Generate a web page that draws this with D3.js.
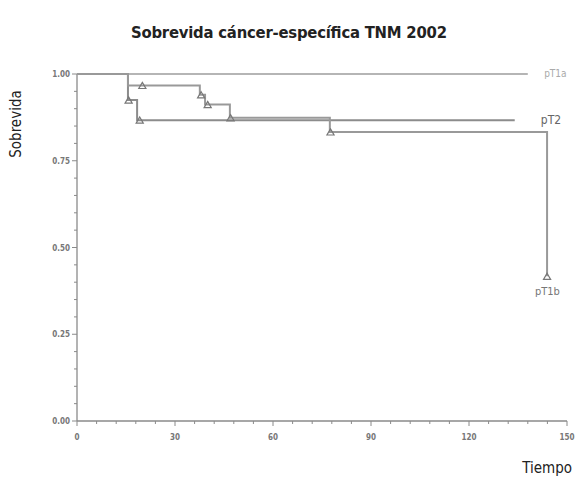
<!DOCTYPE html>
<html>
<head>
<meta charset="utf-8">
<script src="https://cdn.jsdelivr.net/npm/d3@7"></script>
<style>
  body { margin: 0; background: #fff; }
  svg { display: block; }
  .tick-label { font-family: "Liberation Sans Narrow", "DejaVu Sans Condensed", sans-serif; font-size: 8px; font-weight: bold; fill: #777; }
</style>
</head>
<body>
<svg id="chart" width="576" height="477"></svg>
<script>
// x axis ticks (months) and y axis ticks (survival)
var xTicks = [0, 30, 60, 90, 120, 150];
var xTickLabels = ["0", "30", "60", "90", "120", "150"];
var yTicks = [0, 0.25, 0.5, 0.75, 1];
var yTickLabels = ["0.00", "0.25", "0.50", "0.75", "1.00"];

// group names
var groups = ["pT1a", "pT2", "pT1b"];

// step points (time, survival)
var pT1aTimes = [0, 138];
var pT1aSurv  = [1, 1];
var pT2Times  = [0, 15.6, 18.4, 134];
var pT2Surv   = [1, 0.925, 0.867, 0.867];
var pT1bTimes = [0, 15.6, 37.6, 39.2, 46.8, 77.4, 143.9];
var pT1bSurv  = [1, 0.967, 0.94, 0.912, 0.874, 0.833, 0.417];

// censored observations
var pT2CensT  = [15.8, 19.2];
var pT1bCensT = [20, 38, 40, 47, 77.6, 143.9];

d3.select(window).on('load', init);

function init() {
    var svg = d3.select('#chart');

    var x = d3.scaleLinear().domain([0, 150]).range([77, 567]);
    var y = d3.scaleLinear().domain([0, 1]).range([421, 74]);

    var condensed = "'Liberation Sans Narrow', 'DejaVu Sans Condensed', sans-serif";

    // title
    svg.append("text")
        .attr("x", 289).attr("y", 38)
        .attr("text-anchor", "middle")
        .attr("textLength", 316)
        .style("font-family", condensed)
        .style("font-weight", "bold")
        .style("font-size", "16.5px")
        .style("fill", "#222")
        .text("Sobrevida cáncer-específica TNM 2002");

    // axis titles
    svg.append("text")
        .attr("transform", "translate(21,124) rotate(-90)")
        .attr("text-anchor", "middle")
        .style("font-family", condensed)
        .style("font-size", "15px")
        .style("fill", "#222")
        .text("Sobrevida");

    svg.append("text")
        .attr("x", 572).attr("y", 473)
        .attr("text-anchor", "end")
        .style("font-family", condensed)
        .style("font-size", "15px")
        .style("fill", "#222")
        .text("Tiempo");

    // axes
    var axisColor = "#8a8a8a";
    var xAxis = svg.append("g").attr("transform", "translate(0," + y(0) + ")");
    xAxis.append("line").attr("x1", x(0)).attr("x2", x(150)).attr("stroke", axisColor).attr("stroke-width", 1.3);
    xAxis.selectAll(".minor").data(d3.range(0, 151, 6)).enter().append("line")
        .attr("x1", function(d) { return x(d); }).attr("x2", function(d) { return x(d); })
        .attr("y1", 0).attr("y2", function(d) { return d % 30 === 0 ? 5 : 3; })
        .attr("stroke", axisColor);
    xAxis.selectAll(".tick-label").data(xTicks).enter().append("text")
        .attr("class", "tick-label")
        .attr("x", function(d) { return x(d); })
        .attr("y", 19)
        .attr("text-anchor", "middle")
        .text(function(d, i) { return xTickLabels[i]; });

    var yAxis = svg.append("g").attr("transform", "translate(" + x(0) + ",0)");
    yAxis.append("line").attr("y1", y(0)).attr("y2", y(1)).attr("stroke", axisColor).attr("stroke-width", 1.3);
    yAxis.selectAll(".minor").data(d3.range(0, 21)).enter().append("line")
        .attr("y1", function(d) { return y(d * 0.05); }).attr("y2", function(d) { return y(d * 0.05); })
        .attr("x1", function(d) { return d % 5 === 0 ? -5 : -3; }).attr("x2", 0)
        .attr("stroke", axisColor);
    yAxis.selectAll(".tick-label").data(yTicks).enter().append("text")
        .attr("class", "tick-label")
        .attr("x", -7)
        .attr("y", function(d) { return y(d) + 3; })
        .attr("text-anchor", "end")
        .text(function(d, i) { return yTickLabels[i]; });

    // step curves
    var line = d3.line()
        .curve(d3.curveStepAfter)
        .x(function(d) { return x(d[0]); })
        .y(function(d) { return y(d[1]); });

    function pts(ts, ss) { return ts.map(function(t, i) { return [t, ss[i]]; }); }
    function survAt(ts, ss, t) {
        var s = ss[0];
        ts.forEach(function(tt, i) { if (tt <= t) s = ss[i]; });
        return s;
    }

    var curves = [
        {name: groups[0], p: pts(pT1aTimes, pT1aSurv), color: "#b5b5b5"},
        {name: groups[1], p: pts(pT2Times, pT2Surv), color: "#8c8c8c"},
        {name: groups[2], p: pts(pT1bTimes, pT1bSurv), color: "#999"}
    ];

    svg.selectAll(".curve").data(curves).enter().append("path")
        .attr("class", "curve")
        .attr("d", function(d) { return line(d.p); })
        .attr("fill", "none")
        .attr("stroke", function(d) { return d.color; })
        .attr("stroke-width", 2);

    // censor marks
    var cens = pT2CensT.map(function(t) { return [t, survAt(pT2Times, pT2Surv, t)]; })
        .concat(pT1bCensT.map(function(t) { return [t, survAt(pT1bTimes, pT1bSurv, t)]; }));
    var tri = d3.symbol().type(d3.symbolTriangle).size(22);
    svg.selectAll(".cens").data(cens).enter().append("path")
        .attr("d", tri)
        .attr("transform", function(d) { return "translate(" + x(d[0]) + "," + (y(d[1]) + 1) + ")"; })
        .attr("fill", "none")
        .attr("stroke", "#777")
        .attr("stroke-width", 1.2);

    // curve labels
    var labels = [
        {text: groups[0], t: 143, s: 1, dy: 3, size: 10, color: "#aaa"},
        {text: groups[1], t: 142, s: 0.867, dy: 4, size: 12, color: "#666"},
        {text: groups[2], t: 144, s: 0.417, dy: 19, size: 11, color: "#777", anchor: "middle"}
    ];
    svg.selectAll(".lab").data(labels).enter().append("text")
        .attr("x", function(d) { return x(d.t); })
        .attr("y", function(d) { return y(d.s) + d.dy; })
        .attr("text-anchor", function(d) { return d.anchor || "start"; })
        .style("font-family", condensed)
        .style("font-size", function(d) { return d.size + "px"; })
        .style("fill", function(d) { return d.color; })
        .text(function(d) { return d.text; });
}
</script>
</body>
</html>
